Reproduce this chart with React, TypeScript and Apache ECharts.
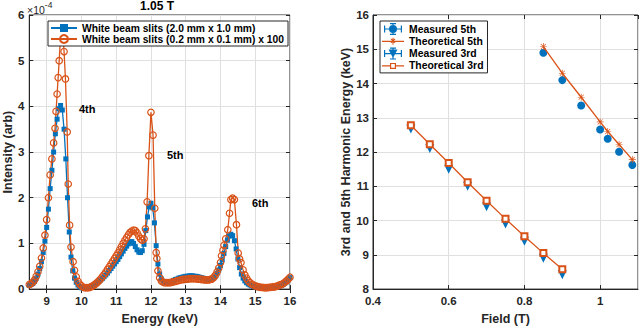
import React, { useEffect, useRef } from "react";
import * as echarts from "echarts";

// ---------- data ----------
const energyTicks = [9, 10, 11, 12, 13, 14, 15, 16];

// White beam slits (2.0 mm x 1.0 mm): [energy keV, intensity x1e-4]
const spectrumWide: [number, number][] = [
  [8.5, 0.08], [8.55, 0.1], [8.6, 0.12], [8.65, 0.17], [8.7, 0.24], [8.75, 0.33], [8.8, 0.45], [8.85, 0.6],
  [8.9, 0.8], [8.95, 1.05], [9.0, 1.35], [9.05, 1.75], [9.1, 2.2], [9.15, 2.6], [9.2, 3.0], [9.25, 3.4],
  [9.3, 3.72], [9.35, 3.95], [9.4, 4.02], [9.45, 3.92], [9.5, 3.5], [9.55, 2.85], [9.6, 2.0], [9.65, 1.25],
  [9.7, 0.7], [9.75, 0.4], [9.8, 0.24], [9.85, 0.15], [9.9, 0.09], [9.95, 0.05], [10.0, 0.03], [10.05, 0.02],
  [10.1, 0.02], [10.15, 0.03], [10.2, 0.04], [10.25, 0.05], [10.3, 0.07], [10.35, 0.09], [10.4, 0.11], [10.45, 0.14],
  [10.5, 0.17], [10.55, 0.2], [10.6, 0.23], [10.65, 0.27], [10.7, 0.31], [10.75, 0.35], [10.8, 0.4], [10.85, 0.45],
  [10.9, 0.5], [10.95, 0.55], [11.0, 0.6], [11.05, 0.65], [11.1, 0.71], [11.15, 0.77], [11.2, 0.83], [11.25, 0.89],
  [11.3, 0.94], [11.35, 0.99], [11.4, 1.03], [11.45, 1.04], [11.5, 1.0], [11.55, 0.93], [11.6, 0.86], [11.65, 0.81],
  [11.7, 0.8], [11.75, 0.84], [11.8, 0.98], [11.85, 1.28], [11.9, 1.58], [11.95, 1.8], [12.0, 1.88], [12.05, 1.78],
  [12.1, 1.45], [12.15, 0.95], [12.2, 0.55], [12.25, 0.33], [12.3, 0.22], [12.35, 0.17], [12.4, 0.15], [12.45, 0.15],
  [12.5, 0.15], [12.55, 0.16], [12.6, 0.17], [12.65, 0.19], [12.7, 0.21], [12.75, 0.22], [12.8, 0.24], [12.85, 0.25],
  [12.9, 0.26], [12.95, 0.27], [13.0, 0.28], [13.05, 0.28], [13.1, 0.29], [13.15, 0.29], [13.2, 0.29], [13.25, 0.28],
  [13.3, 0.28], [13.35, 0.27], [13.4, 0.26], [13.45, 0.25], [13.5, 0.24], [13.55, 0.23], [13.6, 0.22], [13.65, 0.21],
  [13.7, 0.21], [13.75, 0.22], [13.8, 0.24], [13.85, 0.28], [13.9, 0.34], [13.95, 0.42], [14.0, 0.52], [14.05, 0.64],
  [14.1, 0.78], [14.15, 0.93], [14.2, 1.07], [14.25, 1.16], [14.3, 1.2], [14.35, 1.17], [14.4, 1.06], [14.45, 0.88],
  [14.5, 0.66], [14.55, 0.47], [14.6, 0.33], [14.65, 0.24], [14.7, 0.18], [14.75, 0.14], [14.8, 0.11], [14.85, 0.09],
  [14.9, 0.07], [14.95, 0.06], [15.0, 0.05], [15.05, 0.04], [15.1, 0.03], [15.15, 0.03], [15.2, 0.02], [15.25, 0.02],
  [15.3, 0.02], [15.35, 0.02], [15.4, 0.02], [15.45, 0.03], [15.5, 0.03], [15.55, 0.04], [15.6, 0.04], [15.65, 0.05],
  [15.7, 0.07], [15.75, 0.08], [15.8, 0.1], [15.85, 0.13], [15.9, 0.16], [15.95, 0.2], [16.0, 0.25],
];

// White beam slits (0.2 mm x 0.1 mm) x 100
const spectrumNarrow: [number, number][] = [
  [8.5, 0.1], [8.55, 0.12], [8.6, 0.15], [8.65, 0.2], [8.7, 0.28], [8.75, 0.38], [8.8, 0.5], [8.85, 0.68],
  [8.9, 0.9], [8.95, 1.18], [9.0, 1.52], [9.05, 2.0], [9.1, 2.5], [9.15, 2.85], [9.2, 3.2], [9.24, 3.52],
  [9.27, 3.89], [9.3, 4.27], [9.33, 4.63], [9.36, 5.0], [9.4, 5.55], [9.45, 5.75], [9.5, 5.2], [9.54, 4.6],
  [9.59, 3.44], [9.62, 2.3], [9.66, 1.4], [9.7, 0.92], [9.76, 0.6], [9.8, 0.41], [9.85, 0.27], [9.9, 0.17],
  [9.95, 0.11], [10.0, 0.07], [10.05, 0.04], [10.1, 0.03], [10.15, 0.03], [10.2, 0.03], [10.25, 0.04], [10.3, 0.06],
  [10.35, 0.08], [10.4, 0.11], [10.45, 0.14], [10.5, 0.18], [10.55, 0.22], [10.6, 0.27], [10.65, 0.32], [10.7, 0.37],
  [10.75, 0.43], [10.8, 0.49], [10.85, 0.55], [10.9, 0.61], [10.95, 0.67], [11.0, 0.73], [11.05, 0.79], [11.1, 0.86],
  [11.15, 0.93], [11.2, 1.0], [11.25, 1.07], [11.3, 1.13], [11.35, 1.19], [11.4, 1.24], [11.45, 1.27], [11.5, 1.29],
  [11.55, 1.28], [11.6, 1.23], [11.65, 1.16], [11.7, 1.1], [11.75, 1.07], [11.8, 1.1], [11.84, 1.32], [11.89, 1.91],
  [11.94, 2.92], [12.0, 3.87], [12.06, 3.37], [12.11, 1.77], [12.15, 0.8], [12.17, 0.67], [12.2, 0.4], [12.25, 0.25],
  [12.3, 0.18], [12.35, 0.15], [12.4, 0.14], [12.45, 0.14], [12.5, 0.14], [12.55, 0.14], [12.6, 0.15], [12.65, 0.16],
  [12.7, 0.17], [12.75, 0.18], [12.8, 0.19], [12.85, 0.2], [12.9, 0.21], [12.95, 0.21], [13.0, 0.22], [13.05, 0.22],
  [13.1, 0.23], [13.15, 0.23], [13.2, 0.23], [13.25, 0.23], [13.3, 0.23], [13.35, 0.22], [13.4, 0.22], [13.45, 0.21],
  [13.5, 0.21], [13.55, 0.2], [13.6, 0.2], [13.65, 0.2], [13.7, 0.21], [13.75, 0.22], [13.8, 0.25], [13.85, 0.3],
  [13.9, 0.37], [13.95, 0.46], [14.0, 0.58], [14.03, 0.73], [14.07, 0.85], [14.1, 0.96], [14.15, 1.1], [14.21, 1.3],
  [14.26, 1.66], [14.3, 1.96], [14.35, 1.99], [14.4, 1.96], [14.46, 1.41], [14.51, 0.79], [14.55, 0.66], [14.59, 0.58],
  [14.65, 0.42], [14.7, 0.31], [14.75, 0.24], [14.8, 0.18], [14.85, 0.14], [14.9, 0.11], [14.95, 0.09], [15.0, 0.07],
  [15.05, 0.06], [15.1, 0.05], [15.15, 0.04], [15.2, 0.04], [15.25, 0.03], [15.3, 0.03], [15.35, 0.03], [15.4, 0.04],
  [15.45, 0.04], [15.5, 0.05], [15.55, 0.05], [15.6, 0.06], [15.65, 0.07], [15.7, 0.09], [15.75, 0.1], [15.8, 0.12],
  [15.85, 0.15], [15.9, 0.18], [15.95, 0.22], [16.0, 0.26],
];

const field5 = [0.85, 0.9, 0.95, 1.0, 1.02, 1.05, 1.085];
const measured5 = [14.9, 14.1, 13.36, 12.66, 12.39, 12.01, 11.62];
const theoretical5 = [15.08, 14.3, 13.6, 12.88, 12.6, 12.22, 11.78];

const field3 = [0.5, 0.55, 0.6, 0.65, 0.7, 0.75, 0.8, 0.85, 0.9];
const measured3 = [12.67, 12.1, 11.5, 11.0, 10.4, 9.9, 9.4, 8.9, 8.42];
const theoretical3 = [12.78, 12.23, 11.68, 11.12, 10.58, 10.05, 9.54, 9.05, 8.58];

const harmonicLabels = ["4th", "5th", "6th"];

// ---------- styling ----------
const FONT = "'Liberation Sans', Arial, Helvetica, sans-serif";
const BLUE = "#0072BD";
const ORANGE = "#D95319";
const AX = "#262626";
const GRIDC = "#e0e0e0";

const ERR_BARS =
  "M2,5.4 H20 V6.6 H2 Z M2,2.5 H3.2 V9.5 H2 Z M18.8,2.5 H20 V9.5 H18.8 Z M10.4,0 H11.6 V12 H10.4 Z M8,0 H14 V1.2 H8 Z M8,10.8 H14 V12 H8 Z";
const ERR_CIRCLE = "path://" + ERR_BARS + " M7,6 A4,4 0 1,1 15,6 A4,4 0 1,1 7,6 Z";
const ERR_TRI = "path://" + ERR_BARS + " M6.5,2 L15.5,2 L11,10.5 Z";
const ASTERISK =
  "path://M5.4,0 H6.6 V12 H5.4 Z M0,5.4 H12 V6.6 H0 Z M1.3,2.1 L2.1,1.3 L10.7,9.9 L9.9,10.7 Z M9.9,1.3 L10.7,2.1 L2.1,10.7 L1.3,9.9 Z";
// legend icons: line with marker
const LINE_ASTERISK =
  "path://M0,5.4 H22 V6.6 H0 Z M10.5,2.5 H11.5 V9.5 H10.5 Z M7.5,5.5 H14.5 V6.5 H7.5 Z M8.6,3.9 L9.3,3.2 L13.4,7.3 L12.7,8 Z M12.7,3.2 L13.4,3.9 L9.3,8 L8.6,7.3 Z";
const LINE_SQUARE =
  "path://M0,5.4 H8 V6.6 H0 Z M14,5.4 H22 V6.6 H14 Z M8,3 H14 V9 H8 Z M9.2,4.2 V7.8 H12.8 V4.2 Z";

const tickLabel = { color: "#262626", fontSize: 11.5, fontWeight: "bold" as const, fontFamily: FONT };
const nameStyle = { color: "#262626", fontSize: 12.5, fontWeight: "bold" as const, fontFamily: FONT };
const noBorder = { borderWidth: 0 };

function pairs(xs: number[], ys: number[]) {
  return xs.map((x, i) => [x, ys[i]]);
}

export default function App() {
  const ref = useRef<HTMLDivElement>(null);
  useEffect(() => {
    if (!ref.current) return;
    const chart = echarts.init(ref.current, null, { renderer: "svg" });
    const option: any = {
      animation: false,
      backgroundColor: "#fff",
      textStyle: { fontFamily: FONT },
      grid: [
        { left: 26, right: 350, top: 15, bottom: 36, show: true, borderColor: AX, borderWidth: 1, backgroundColor: "#fff" },
        { left: 373, right: 2, top: 15, bottom: 36, show: true, borderColor: AX, borderWidth: 1, backgroundColor: "#fff" },
      ],
      xAxis: [
        {
          gridIndex: 0, type: "value", min: 8.5, max: 16, position: "bottom",
          name: "Energy (keV)", nameLocation: "middle", nameGap: 21, nameTextStyle: nameStyle,
          axisLine: { show: true, lineStyle: { color: AX } },
          axisTick: { inside: true, length: 4, customValues: energyTicks, lineStyle: { color: AX } },
          axisLabel: { customValues: energyTicks, margin: 6, ...tickLabel },
          splitLine: { show: true, lineStyle: { color: GRIDC } },
        },
        {
          gridIndex: 0, type: "value", min: 8.5, max: 16, position: "top",
          axisLine: { show: false },
          axisTick: { inside: true, length: 4, customValues: energyTicks, lineStyle: { color: AX } },
          axisLabel: { show: false },
          splitLine: { show: false },
        },
        {
          gridIndex: 1, type: "value", min: 0.4, max: 1.1, interval: 0.2, position: "bottom",
          name: "Field (T)", nameLocation: "middle", nameGap: 21, nameTextStyle: nameStyle,
          axisLine: { show: true, lineStyle: { color: AX } },
          axisTick: { inside: true, length: 4, lineStyle: { color: AX } },
          axisLabel: { margin: 6, showMaxLabel: false, ...tickLabel },
          splitLine: { show: true, lineStyle: { color: GRIDC } },
        },
        {
          gridIndex: 1, type: "value", min: 0.4, max: 1.1, interval: 0.2, position: "top",
          axisLine: { show: false },
          axisTick: { inside: true, length: 4, lineStyle: { color: AX } },
          axisLabel: { show: false },
          splitLine: { show: false },
        },
      ],
      yAxis: [
        {
          gridIndex: 0, type: "value", min: 0, max: 6, interval: 1, position: "left",
          name: "Intensity (arb)", nameLocation: "middle", nameGap: 12, nameTextStyle: nameStyle,
          axisLine: { show: true, lineStyle: { color: AX } },
          axisTick: { show: true, inside: true, length: 4, lineStyle: { color: AX } },
          axisLabel: { margin: 5, ...tickLabel },
          splitLine: { show: true, lineStyle: { color: GRIDC } },
        },
        {
          gridIndex: 0, type: "value", min: 0, max: 6, interval: 1, position: "right",
          axisLine: { show: false },
          axisTick: { show: true, inside: true, length: 4, lineStyle: { color: AX } },
          axisLabel: { show: false },
          splitLine: { show: false },
        },
        {
          gridIndex: 1, type: "value", min: 8, max: 16, interval: 1, position: "left",
          name: "3rd and 5th Harmonic Energy (keV)", nameLocation: "middle", nameGap: 18, nameTextStyle: nameStyle,
          axisLine: { show: true, lineStyle: { color: AX } },
          axisTick: { show: true, inside: true, length: 4, lineStyle: { color: AX } },
          axisLabel: { margin: 4, ...tickLabel },
          splitLine: { show: true, lineStyle: { color: GRIDC } },
        },
        {
          gridIndex: 1, type: "value", min: 8, max: 16, interval: 1, position: "right",
          axisLine: { show: false },
          axisTick: { show: true, inside: true, length: 4, lineStyle: { color: AX } },
          axisLabel: { show: false },
          splitLine: { show: false },
        },
      ],
      legend: [
        {
          orient: "vertical", left: 48, top: 21,
          padding: [2, 4, 2, 2], itemGap: 1, itemWidth: 26, itemHeight: 10,
          backgroundColor: "#fff", borderColor: AX, borderWidth: 1, borderRadius: 0,
          textStyle: { color: "#000", fontSize: 10.3, fontWeight: "bold", fontFamily: FONT },
          data: ["White beam slits (2.0 mm x 1.0 mm)", "White beam slits (0.2 mm x 0.1 mm) x 100"],
        },
        {
          orient: "vertical", left: 380, top: 21,
          padding: [2, 4, 2, 2], itemGap: 1.3, itemWidth: 22, itemHeight: 12,
          backgroundColor: "#fff", borderColor: AX, borderWidth: 1, borderRadius: 0,
          textStyle: { color: "#000", fontSize: 10.4, fontWeight: "bold", fontFamily: FONT },
          data: [
            { name: "Measured 5th", icon: ERR_CIRCLE, itemStyle: noBorder },
            { name: "Theoretical 5th", icon: LINE_ASTERISK, itemStyle: noBorder },
            { name: "Measured 3rd", icon: ERR_TRI, itemStyle: noBorder },
            { name: "Theoretical 3rd", icon: LINE_SQUARE, itemStyle: { borderWidth: 0, color: ORANGE } },
          ],
        },
      ],
      graphic: [
        {
          type: "text", left: 140, top: 0, z: 10,
          style: { text: "1.05 T", font: `bold 12px ${FONT}`, fill: "#000" },
        },
        {
          type: "text", left: 27, top: 0, z: 10,
          style: {
            text: "{a|×10}{b|-4}",
            rich: {
              a: { fontSize: 10.5, fontFamily: FONT, fill: "#262626", padding: [4, 0, 0, 0] },
              b: { fontSize: 8.5, fontFamily: FONT, fill: "#262626", verticalAlign: "top", padding: [0, 0, 4, 0] },
            },
          },
        },
        {
          type: "text", left: 79, top: 103, z: 10,
          style: { text: harmonicLabels[0], font: `bold 11px ${FONT}`, fill: "#000" },
        },
        {
          type: "text", left: 167, top: 149, z: 10,
          style: { text: harmonicLabels[1], font: `bold 11px ${FONT}`, fill: "#000" },
        },
        {
          type: "text", left: 252, top: 197, z: 10,
          style: { text: harmonicLabels[2], font: `bold 11px ${FONT}`, fill: "#000" },
        },
      ],
      series: [
        {
          name: "White beam slits (2.0 mm x 1.0 mm)", type: "line", xAxisIndex: 0, yAxisIndex: 0,
          data: spectrumWide, symbol: "rect", symbolSize: 5, showAllSymbol: true,
          lineStyle: { color: BLUE, width: 1.3 }, itemStyle: { color: BLUE },
        },
        {
          name: "White beam slits (0.2 mm x 0.1 mm) x 100", type: "line", xAxisIndex: 0, yAxisIndex: 0,
          data: spectrumNarrow, symbol: "circle", symbolSize: 6.5, showAllSymbol: true,
          lineStyle: { color: ORANGE, width: 1.3 },
          itemStyle: { color: "rgba(255,255,255,0)", borderColor: ORANGE, borderWidth: 1.2 },
        },
        {
          name: "Measured 5th", type: "scatter", xAxisIndex: 2, yAxisIndex: 2,
          data: pairs(field5, measured5), symbol: "circle", symbolSize: 8,
          itemStyle: { color: BLUE, opacity: 1 },
        },
        {
          name: "Theoretical 5th", type: "line", xAxisIndex: 2, yAxisIndex: 2,
          data: pairs(field5, theoretical5), symbol: ASTERISK, symbolSize: 7, showAllSymbol: true,
          lineStyle: { color: ORANGE, width: 1.3 }, itemStyle: { color: ORANGE },
        },
        {
          name: "Measured 3rd", type: "scatter", xAxisIndex: 2, yAxisIndex: 2,
          data: pairs(field3, measured3), symbol: "triangle", symbolRotate: 180, symbolSize: 9,
          itemStyle: { color: BLUE, opacity: 1 },
        },
        {
          name: "Theoretical 3rd", type: "line", xAxisIndex: 2, yAxisIndex: 2,
          data: pairs(field3, theoretical3), symbol: "emptyRect", symbolSize: 6, showAllSymbol: true,
          lineStyle: { color: ORANGE, width: 1.3 },
          itemStyle: { color: ORANGE, borderColor: ORANGE, borderWidth: 1.2 },
        },
      ],
    };
    chart.setOption(option);
    return () => chart.dispose();
  }, []);
  return <div ref={ref} style={{ width: 640, height: 330, position: "absolute", left: 0, top: 0 }} />;
}
